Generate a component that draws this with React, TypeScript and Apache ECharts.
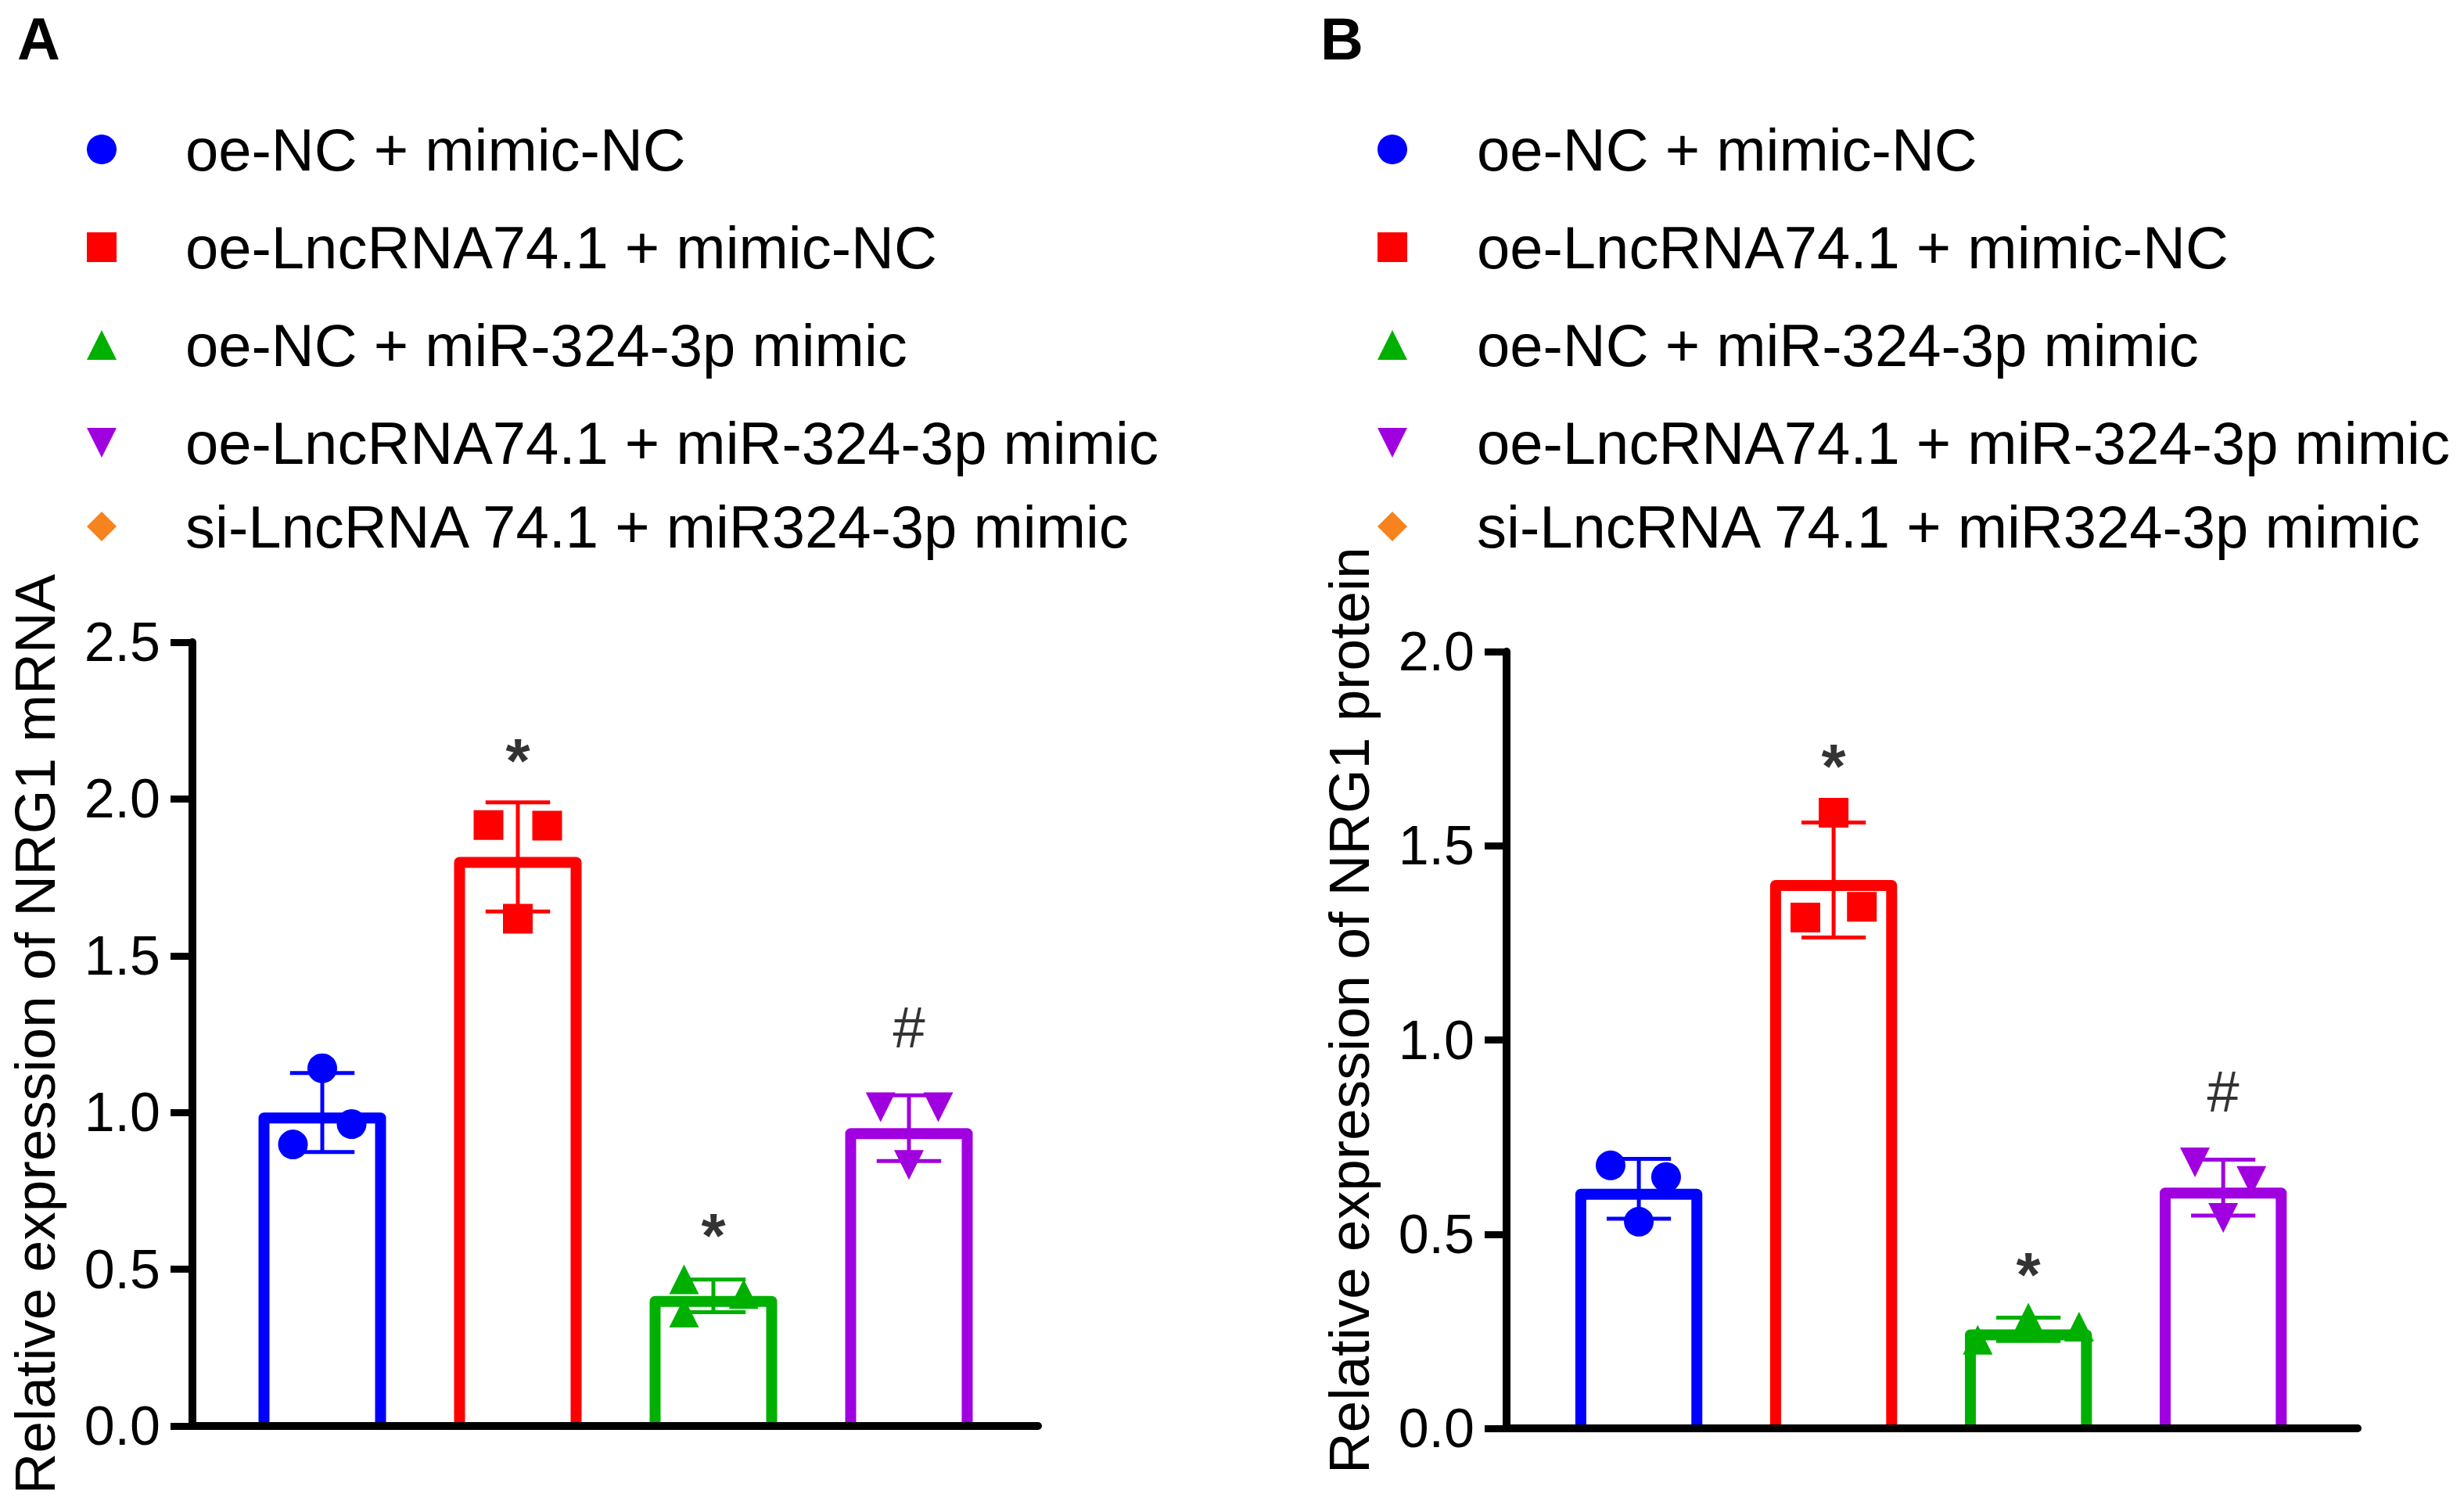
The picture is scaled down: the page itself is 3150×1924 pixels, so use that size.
import React, { useEffect, useRef } from "react";
import * as echarts from "echarts";

// ---------- data ----------
const groups = [
  "oe-NC + mimic-NC",
  "oe-LncRNA74.1 + mimic-NC",
  "oe-NC + miR-324-3p mimic",
  "oe-LncRNA74.1 + miR-324-3p mimic",
];
const extraGroup = "si-LncRNA 74.1 + miR324-3p mimic";

const mrnaMean = [1.0, 1.815, 0.415, 0.95];
const mrnaSD = [0.126, 0.174, 0.052, 0.105];
const mrnaPoints = [
  [1.141, 0.898, 0.963],
  [1.917, 1.915, 1.618],
  [0.468, 0.362, 0.421],
  [1.017, 1.017, 0.833],
];
const mrnaMarks = ["", "*", "*", "#"];
const mrnaMarkY = [0, 2.158, 0.643, 1.272];

const proteinMean = [0.617, 1.412, 0.255, 0.62];
const proteinSD = [0.077, 0.148, 0.03, 0.072];
const proteinPoints = [
  [0.677, 0.532, 0.647],
  [1.585, 1.315, 1.343],
  [0.228, 0.285, 0.262],
  [0.685, 0.542, 0.637],
];
const proteinMarks = ["", "*", "*", "#"];
const proteinMarkY = [0, 1.734, 0.423, 0.868];

const yTicksA = [0, 0.5, 1.0, 1.5, 2.0, 2.5];
const yTicksB = [0, 0.5, 1.0, 1.5, 2.0];

// ---------- layout / style ----------
const FONT = "'Liberation Sans', Arial, Helvetica, sans-serif";
const groupColors = ["#0000FF", "#FF0000", "#00B000", "#A000E0"];
const extraColor = "#F7831E";
const groupSymbols = ["circle", "rect", "triangle", "path://M0,0L2,0L1,2Z"];
const jitterA = [
  [0, -0.15, 0.15],
  [-0.15, 0.15, 0],
  [-0.15, -0.15, 0.155],
  [-0.145, 0.15, 0],
];
const jitterB = [
  [-0.145, 0, 0.14],
  [0, -0.145, 0.145],
  [-0.26, 0, 0.26],
  [-0.145, 0, 0.145],
];
const BAR_W = 0.652; // outer width in band units
const BAR_LW = 14;
const CAP_W = 0.33;
const ERR_LW = 5;
const AXIS_LW = 10;

function panelSeries(
  idx: number,
  means: number[],
  sds: number[],
  points: number[][],
  jitter: number[][],
  marks: string[],
  markY: number[]
) {
  const series: any[] = [];
  series.push({
    type: "custom",
    name: "bars" + idx,
    xAxisIndex: idx,
    yAxisIndex: idx,
    z: 2,
    silent: true,
    data: means.map((m, i) => [i, m]),
    renderItem: (params: any, api: any) => {
      const x = api.value(0);
      const v = api.value(1);
      const top = api.coord([x, v]);
      const base = api.coord([x, 0]);
      const unit = api.size([1, 0])[0];
      const w = BAR_W * unit;
      const xl = top[0] - w / 2 + BAR_LW / 2;
      const xr = top[0] + w / 2 - BAR_LW / 2;
      const yt = top[1] + BAR_LW / 2;
      const yb = base[1] - AXIS_LW / 2;
      return {
        type: "polyline",
        shape: { points: [[xl, yb], [xl, yt], [xr, yt], [xr, yb]] },
        style: {
          fill: "none",
          stroke: groupColors[params.dataIndex],
          lineWidth: BAR_LW,
          lineJoin: "round",
        },
      };
    },
  });
  series.push({
    type: "custom",
    name: "err" + idx,
    xAxisIndex: idx,
    yAxisIndex: idx,
    z: 3,
    silent: true,
    data: means.map((m, i) => [i, m, sds[i]]),
    renderItem: (params: any, api: any) => {
      const x = api.value(0);
      const m = api.value(1);
      const s = api.value(2);
      const hi = api.coord([x, m + s]);
      const lo = api.coord([x, m - s]);
      const unit = api.size([1, 0])[0];
      const cw = (CAP_W * unit) / 2;
      const style = { stroke: groupColors[params.dataIndex], lineWidth: ERR_LW };
      return {
        type: "group",
        children: [
          { type: "line", shape: { x1: hi[0], y1: hi[1], x2: lo[0], y2: lo[1] }, style },
          { type: "line", shape: { x1: hi[0] - cw, y1: hi[1], x2: hi[0] + cw, y2: hi[1] }, style },
          { type: "line", shape: { x1: lo[0] - cw, y1: lo[1], x2: lo[0] + cw, y2: lo[1] }, style },
        ],
      };
    },
  });
  groups.forEach((g, gi) => {
    series.push({
      type: "scatter",
      name: g,
      xAxisIndex: idx,
      yAxisIndex: idx,
      z: 4,
      symbol: groupSymbols[gi],
      symbolSize: 38,
      itemStyle: { color: groupColors[gi], opacity: 1 },
      data: points[gi].map((v, k) => [gi + jitter[gi][k], v]),
    });
  });
  series.push({
    type: "scatter",
    name: "marks" + idx,
    xAxisIndex: idx,
    yAxisIndex: idx,
    z: 5,
    silent: true,
    symbol: "circle",
    symbolSize: 1,
    itemStyle: { color: "rgba(0,0,0,0)" },
    data: marks
      .map((t, i) => ({ t, i }))
      .filter((d) => d.t !== "")
      .map((d) => ({
        value: [d.i, markY[d.i]],
        label: {
          show: true,
          position: "inside",
          formatter: d.t,
          fontSize: d.t === "*" ? 80 : 74,
          fontWeight: d.t === "*" ? "bold" : "normal",
          fontFamily: FONT,
          color: "#000",
          offset: d.t === "*" ? [0, 14] : [0, 0],
        },
      })),
  });
  return series;
}

function yAxis(idx: number, ticks: number[], name: string, namePad: number[]) {
  return {
    gridIndex: idx,
    type: "value",
    min: ticks[0],
    max: ticks[ticks.length - 1],
    interval: ticks[1] - ticks[0],
    name,
    nameLocation: "middle",
    nameRotate: 90,
    nameGap: 165,
    nameTextStyle: { fontSize: 73, color: "#000", fontFamily: FONT, padding: namePad },
    axisLine: { show: true, onZero: false, lineStyle: { color: "#000", width: AXIS_LW } },
    axisTick: { show: true, length: 28, lineStyle: { color: "#000", width: 9 } },
    axisLabel: {
      fontSize: 70,
      color: "#000",
      fontFamily: FONT,
      margin: 41,
      formatter: (v: number) => v.toFixed(1),
    },
    splitLine: { show: false },
  };
}

function xAxis(idx: number, min: number, max: number) {
  return {
    gridIndex: idx,
    type: "value",
    min,
    max,
    axisLine: { show: true, onZero: false, lineStyle: { color: "#000", width: AXIS_LW } },
    axisTick: { show: false },
    axisLabel: { show: false },
    splitLine: { show: false },
  };
}

const legendText = (pad: number) => ({
  fontSize: 76,
  color: "#000",
  fontFamily: FONT,
  padding: [0, 0, 0, pad],
});

function legend(left: number, top: number, data: string[], pad: number) {
  return {
    data,
    left,
    top,
    orient: "vertical",
    itemWidth: 38,
    itemHeight: 38,
    itemGap: 49,
    padding: 0,
    selectedMode: false,
    textStyle: legendText(pad),
  };
}

export default function App() {
  const ref = useRef<HTMLDivElement>(null);
  useEffect(() => {
    if (!ref.current) return;
    const chart = echarts.init(ref.current, null, { renderer: "svg" });
    const option: any = {
      animation: false,
      backgroundColor: "#fff",
      title: [
        { text: "A", left: 22, top: 11, padding: 0, textStyle: { fontSize: 76, fontWeight: "bold", color: "#000", fontFamily: FONT } },
        { text: "B", left: 1688, top: 11, padding: 0, textStyle: { fontSize: 76, fontWeight: "bold", color: "#000", fontFamily: FONT } },
      ],
      legend: [
        legend(111, 153, groups, 83),
        legend(111, 635, [extraGroup], 83),
        legend(1761, 153, groups, 84),
        legend(1761, 635, [extraGroup], 84),
      ],
      grid: [
        { left: 246, top: 821, width: 1081, height: 1002, outerBoundsMode: "none", containLabel: false },
        { left: 1926, top: 833, width: 1088, height: 993, outerBoundsMode: "none", containLabel: false },
      ],
      xAxis: [xAxis(0, -0.664, 3.66), xAxis(1, -0.679, 3.69)],
      yAxis: [
        yAxis(0, yTicksA, "Relative expression of NRG1 mRNA", [0, 0, 0, 0]),
        yAxis(1, yTicksB, "Relative expression of NRG1 protein", [0, 0, 0, 76]),
      ],
      series: [
        ...panelSeries(0, mrnaMean, mrnaSD, mrnaPoints, jitterA, mrnaMarks, mrnaMarkY),
        ...panelSeries(1, proteinMean, proteinSD, proteinPoints, jitterB, proteinMarks, proteinMarkY),
        {
          type: "scatter",
          name: extraGroup,
          xAxisIndex: 0,
          yAxisIndex: 0,
          symbol: "diamond",
          symbolSize: 38,
          itemStyle: { color: extraColor, opacity: 1 },
          data: [],
        },
      ],
    };
    chart.setOption(option);
    return () => chart.dispose();
  }, []);
  return (
    <div
      ref={ref}
      style={{ position: "absolute", left: 0, top: 0, width: 3150, height: 1924, background: "#fff" }}
    />
  );
}
